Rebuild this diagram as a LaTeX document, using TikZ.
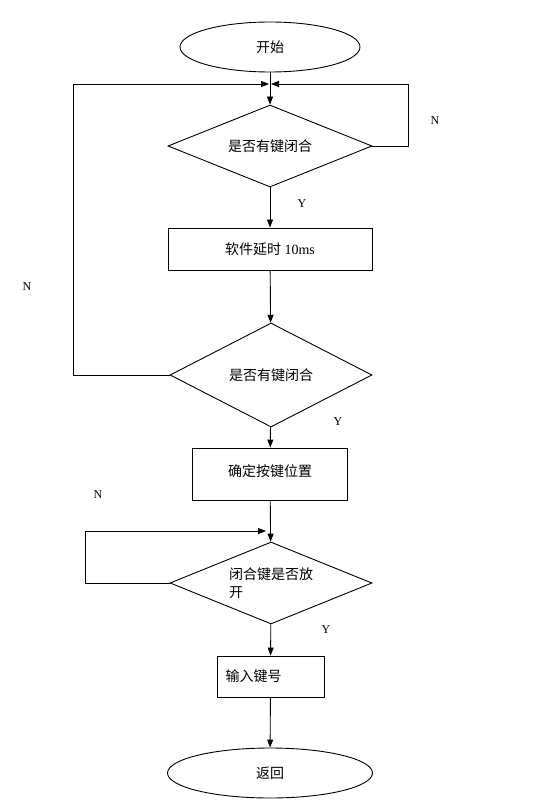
\documentclass[tikz,border=0pt]{standalone}
\usepackage{fontspec}
\setmainfont{Liberation Serif}
\newfontfamily\cjk{Noto Sans CJK SC}
\usetikzlibrary{shapes.geometric,arrows.meta}

\begin{document}
\begin{tikzpicture}[x=1pt,y=-1pt,
line width=0.9pt,
term/.style={ellipse,draw=black,inner sep=0pt,font=\cjk\fontsize{14}{17}\selectfont},
test/.style={diamond,draw=black,inner sep=0pt,font=\cjk\fontsize{14}{18}\selectfont},
proc/.style={rectangle,draw=black,inner sep=0pt,font=\fontsize{14}{17}\selectfont},
yn/.style={font=\fontsize{12}{14}\selectfont},
arr/.style={-{Triangle[length=8pt,width=6pt]}}
]
\useasboundingbox (0,0) rectangle (552,802);
\node[term,minimum width=180pt,minimum height=50pt] (start) at (270,47) {开始};
\node[test,minimum width=204pt,minimum height=82pt,aspect=2.49] (d1) at (270,146) {是否有键闭合};
\node[proc,minimum width=204pt,minimum height=42pt] (delay) at (270,249) {{\cjk 软件延时} 10ms};
\node[test,minimum width=202pt,minimum height=104pt,aspect=1.94] (d2) at (271,375) {是否有键闭合};
\node[proc,minimum width=155pt,minimum height=52pt] (pos) at (270,474) {\raisebox{6pt}{\cjk 确定按键位置}};
\node[test,minimum width=202pt,minimum height=82pt,aspect=2.46,align=left] (d3) at (271,583) {闭合键是否放\\开};
\node[proc,minimum width=107pt,minimum height=41pt,text width=90pt,inner sep=8.5pt,align=left] (out) at (270.5,676.5) {\cjk 输入键号};
\node[term,minimum width=205pt,minimum height=50pt] (ret) at (270,773) {返回};
% junctions and loop corners
\coordinate (join) at (270,84);
\coordinate (loopL) at (73,84);
\coordinate (loopR) at (408,84);
\coordinate (join3) at (270,531);
\coordinate (loop3) at (85,531);
% main flow
\draw[arr] (start) -- (d1);
\draw[arr] (d1) -- (delay);
\draw[arr] (delay) -- (d2);
\draw[arr] (d2) -- (pos);
\draw[arr] (pos) -- (d3);
\draw[arr] (d3) -- (out);
\draw[arr] (out) -- (ret);
% loops back
\draw[arr,shorten >=1pt] (d1.east) -| (loopR) -- (join);
\draw[arr,shorten >=1pt] (d2.west) -| (loopL) -- (join);
\draw[arr,shorten >=4pt] (d3.west) -| (loop3) -- (join3);
% labels
\node[yn] (n1) at (435,121) {N};
\node[yn] (y1) at (302,204) {Y};
\node[yn] (n2) at (27,287) {N};
\node[yn] (y2) at (338,422) {Y};
\node[yn] (n3) at (98,495) {N};
\node[yn] (y3) at (326,630) {Y};
\end{tikzpicture}
\end{document}
